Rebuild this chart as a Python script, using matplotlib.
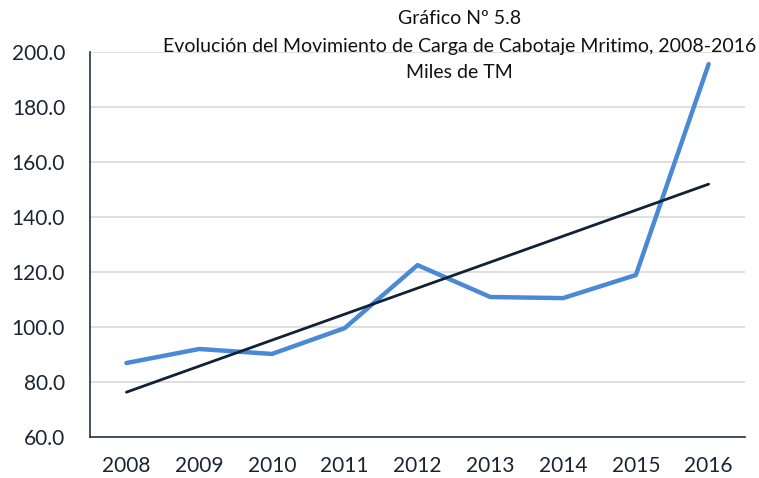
import numpy as np
import matplotlib
matplotlib.use("Agg")
import matplotlib.pyplot as plt

plt.rcParams['font.family'] = ['Lato', 'DejaVu Sans']

# Movimiento de carga de cabotaje marítimo (miles de TM)
years = ["2008", "2009", "2010", "2011", "2012", "2013", "2014", "2015", "2016"]
carga = [86.9, 92.0, 90.2, 99.6, 122.5, 110.9, 110.5, 118.9, 195.6]
yticks = [60.0, 80.0, 100.0, 120.0, 140.0, 160.0, 180.0, 200.0]

title_lines = ["Gráfico Nº 5.8",
               "Evolución del Movimiento de Carga de Cabotaje Mritimo, 2008-2016",
               "Miles de TM"]

x = np.arange(len(years))
# tendencia lineal
coef = np.polyfit(x, carga, 1)
trend = np.polyval(coef, x)

fig = plt.figure(figsize=(7.59, 4.78), dpi=100)
ax = fig.add_axes([0.1186, 0.0858, 0.9816 - 0.1186, 0.8912 - 0.0858])

ax.plot(x, carga, color="#4a89d6", lw=3.2, solid_capstyle="round", zorder=3)
ax.plot(x, trend, color="#0f2238", lw=2.0, solid_capstyle="round", zorder=4)

ax.set_xlim(-0.5, len(years) - 0.5)
ax.set_ylim(60, 200)
ax.set_yticks(yticks)
ax.set_yticklabels([f"{v:.1f}" for v in yticks])
ax.set_xticks(x)
ax.set_xticklabels(years)
ax.grid(axis="y", color="#d9d9d9", lw=1.2)
ax.set_axisbelow(True)

for s in ["top", "right"]:
    ax.spines[s].set_visible(False)
for s in ["left", "bottom"]:
    ax.spines[s].set_color("#1f3450")
    ax.spines[s].set_linewidth(1.2)

ax.tick_params(axis="both", length=0, labelsize=15, colors="#1a2533")
ax.tick_params(axis="x", pad=14)
ax.tick_params(axis="y", pad=18)

for line, yy in zip(title_lines, [0.962, 0.902, 0.848]):
    fig.text(0.605, yy, line, ha="center", va="center", fontsize=14, color="#111111")

fig.savefig("out.png", dpi=100)
